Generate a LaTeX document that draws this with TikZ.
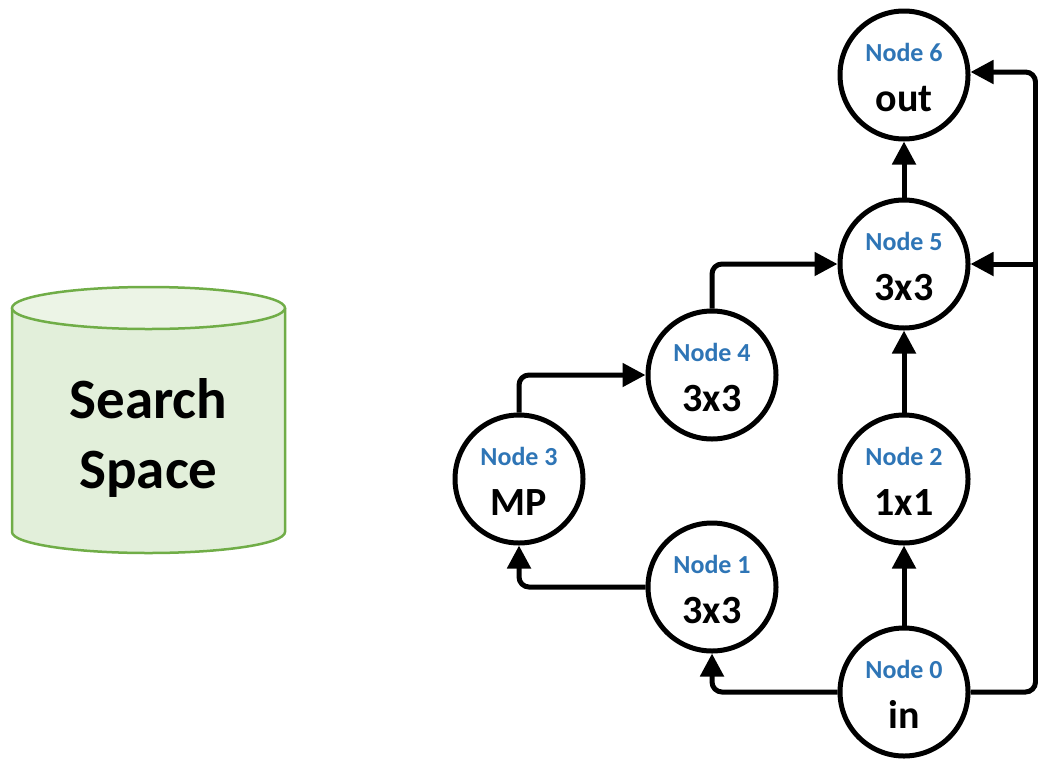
\documentclass[tikz,border=0pt]{standalone}
\usepackage{fontspec}
\setmainfont{Carlito}
\usetikzlibrary{arrows.meta}
\definecolor{nodeblue}{RGB}{46,117,182}
\definecolor{cylline}{RGB}{112,173,71}
\definecolor{cylbody}{RGB}{226,239,218}
\definecolor{cyltop}{RGB}{236,244,230}
\tikzset{
  opnode/.style={circle, draw=black, line width=5pt, fill=white, minimum size=128pt, inner sep=0pt},
  idtext/.style={anchor=base, text=nodeblue, font=\bfseries\fontsize{26}{26}\selectfont, inner sep=0pt},
  optext/.style={anchor=base, text=black, font=\bfseries\fontsize{40}{40}\selectfont, inner sep=0pt},
  conn/.style={line width=5pt, rounded corners=10pt, -{Triangle[length=23pt,width=23pt]}},
}
\begin{document}
\begin{tikzpicture}[x=1pt,y=-1pt]
\useasboundingbox (0,0) rectangle (1038,758);
% cylinder
\fill[cylbody] (12,308) -- (12,532) arc[start angle=180,end angle=0,x radius=136.5,y radius=21] -- (285,308) -- cycle;
\draw[cylline, line width=2.5pt] (12,308) -- (12,532) arc[start angle=180,end angle=0,x radius=136.5,y radius=21] -- (285,308);
\draw[cylline, line width=2.5pt, fill=cyltop] (148.5,308) ellipse[x radius=136.5, y radius=21];
\node[font=\bfseries\fontsize{57}{70}\selectfont, align=center, inner sep=0pt] (ss) at (148.5,438) {Search\\Space};
% graph nodes
\node[opnode] (n6) at (904,75) {};
\node[opnode] (n5) at (904,264) {};
\node[opnode] (n2) at (904,479) {};
\node[opnode] (n0) at (904,692) {};
\node[opnode] (n1) at (712,587) {};
\node[opnode] (n4) at (712,375) {};
\node[opnode] (n3) at (519,479) {};
\foreach \n/\id/\op in {n6/Node 6/out, n5/Node 5/3x3, n2/Node 2/1x1, n0/Node 0/in, n1/Node 1/3x3, n4/Node 4/3x3, n3/Node 3/MP}{
  \node[idtext] (\n-id) at ([yshift=14pt]\n.center) {\id};
  \node[optext] (\n-op) at ([yshift=-36pt]\n.center) {\op};
}
% bus coordinates
\coordinate (busb) at (1035.5,692);
\coordinate (bust) at (1035.5,72);
\coordinate (busm) at (1035.5,264);
% connectors
\draw[conn] (n0.north) -- (n2.south);
\draw[conn] (n2.north) -- (n5.south);
\draw[conn] (n5.north) -- (n6.south);
\draw[conn] (n0.west) -| (n1.south);
\draw[conn] (n1.west) -| (n3.south);
\draw[conn] (n3.north) |- (n4.west);
\draw[conn] (n4.north) |- (n5.west);
\draw[conn] (n0.east) -- (busb) -- (bust) -- (n6.east |- bust);
\draw[conn] (busm) -- (n5.east);
\end{tikzpicture}
\end{document}
